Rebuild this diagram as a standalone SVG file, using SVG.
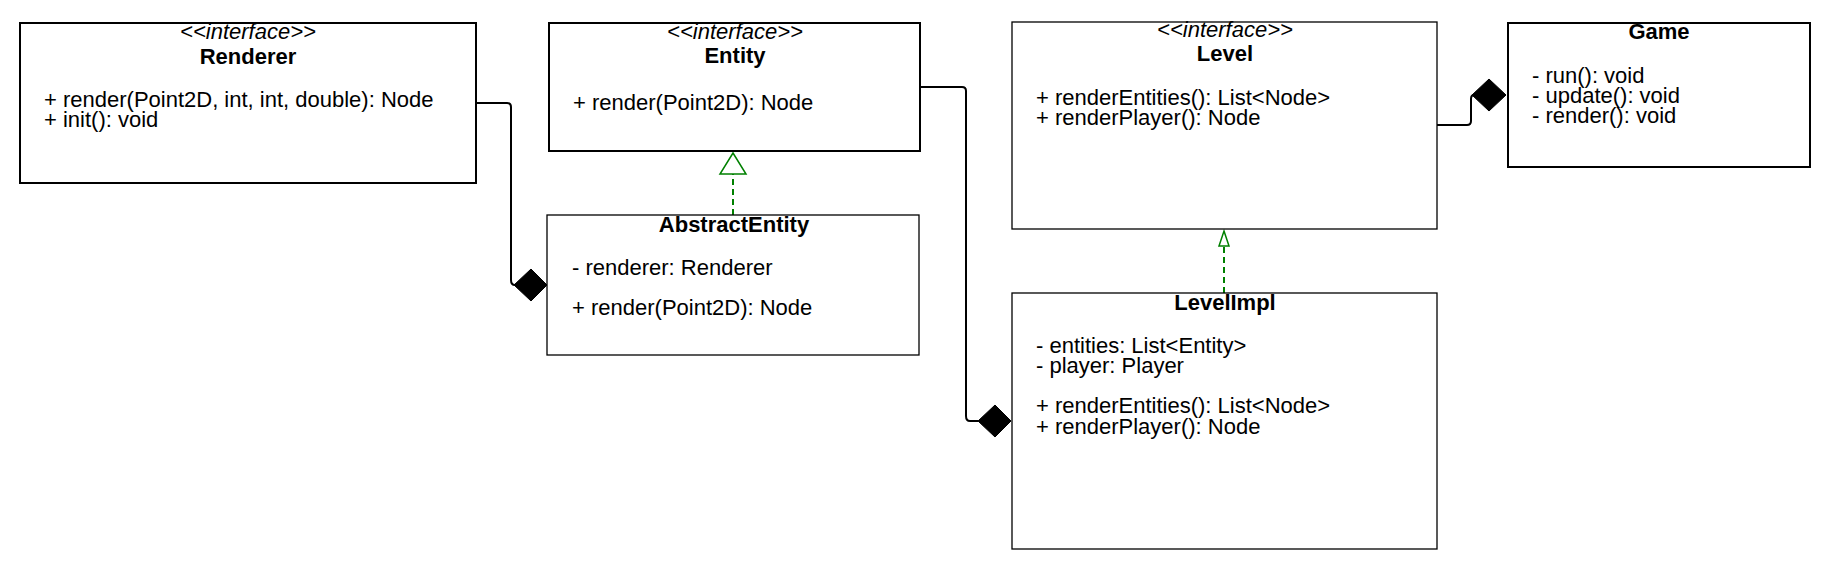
<svg xmlns="http://www.w3.org/2000/svg" width="1830" height="570" viewBox="0 0 1830 570">
<defs>
<style>
text { font-family: "Liberation Sans", Arial, Helvetica, sans-serif; font-size: 22px; fill: #000; }
.st { font-style: italic; text-anchor: middle; }
.ti { font-weight: bold; text-anchor: middle; }
.box { fill: #fff; stroke: #000; }
.thick { stroke-width: 2; }
.thin { stroke-width: 1.3; }
.conn { fill: none; stroke: #000; stroke-width: 2; }
.real { fill: none; stroke: #008000; stroke-width: 2; stroke-dasharray: 6 4; }
.tri { fill: #fff; stroke: #008000; stroke-width: 1.5; }
.dia { fill: #000; stroke: #000; stroke-width: 1; }
</style>
</defs>
<rect width="1830" height="570" fill="#fff"/>

<g id="connectors">
  <!-- Renderer to AbstractEntity (composition) -->
  <path class="conn" d="M476,103 H507 Q511,103 511,107 V280 Q511,285 515,285"/>
  <polygon class="dia" points="514,285 531,269 547,285 531,301"/>
  <!-- Entity to LevelImpl (composition) -->
  <path class="conn" d="M920,87 H962 Q966,87 966,91 V416 Q966,421 970,421 H978"/>
  <polygon class="dia" points="978,421 995,405 1011,421 995,437"/>
  <!-- Level to Game (composition) -->
  <path class="conn" d="M1437,125 H1467 Q1471,125 1471,121 V99 Q1471,95 1474,95"/>
  <polygon class="dia" points="1472,95 1489,79 1506,95 1489,111"/>
  <!-- AbstractEntity realizes Entity -->
  <line class="real" x1="733" y1="215" x2="733" y2="174"/>
  <polygon class="tri" points="733,153 746,174 720,174"/>
  <!-- LevelImpl realizes Level -->
  <line class="real" x1="1224" y1="293" x2="1224" y2="246"/>
  <polygon class="tri" points="1224,231 1229,246 1219,246"/>
</g>

<g id="Renderer">
  <rect class="box thick" x="20" y="23" width="456" height="160"/>
  <text class="st" x="248" y="39">&lt;&lt;interface&gt;&gt;</text>
  <text class="ti" x="248" y="64">Renderer</text>
  <text x="44" y="107">+ render(Point2D, int, int, double): Node</text>
  <text x="44" y="127">+ init(): void</text>
</g>

<g id="Entity">
  <rect class="box thick" x="549" y="23" width="371" height="128"/>
  <text class="st" x="735" y="39">&lt;&lt;interface&gt;&gt;</text>
  <text class="ti" x="735" y="63">Entity</text>
  <text x="573" y="110">+ render(Point2D): Node</text>
</g>

<g id="AbstractEntity">
  <rect class="box thin" x="547" y="215" width="372" height="140"/>
  <text class="ti" x="734" y="232">AbstractEntity</text>
  <text x="572" y="275">- renderer: Renderer</text>
  <text x="572" y="315">+ render(Point2D): Node</text>
</g>

<g id="Level">
  <rect class="box thin" x="1012" y="22" width="425" height="207"/>
  <text class="st" x="1225" y="37">&lt;&lt;interface&gt;&gt;</text>
  <text class="ti" x="1225" y="61">Level</text>
  <text x="1036" y="105">+ renderEntities(): List&lt;Node&gt;</text>
  <text x="1036" y="125">+ renderPlayer(): Node</text>
</g>

<g id="LevelImpl">
  <rect class="box thin" x="1012" y="293" width="425" height="256"/>
  <text class="ti" x="1225" y="310">LevelImpl</text>
  <text x="1036" y="353">- entities: List&lt;Entity&gt;</text>
  <text x="1036" y="373">- player: Player</text>
  <text x="1036" y="413">+ renderEntities(): List&lt;Node&gt;</text>
  <text x="1036" y="434">+ renderPlayer(): Node</text>
</g>

<g id="Game">
  <rect class="box thick" x="1508" y="23" width="302" height="144"/>
  <text class="ti" x="1659" y="39">Game</text>
  <text x="1532" y="83">- run(): void</text>
  <text x="1532" y="103">- update(): void</text>
  <text x="1532" y="123">- render(): void</text>
</g>
</svg>
